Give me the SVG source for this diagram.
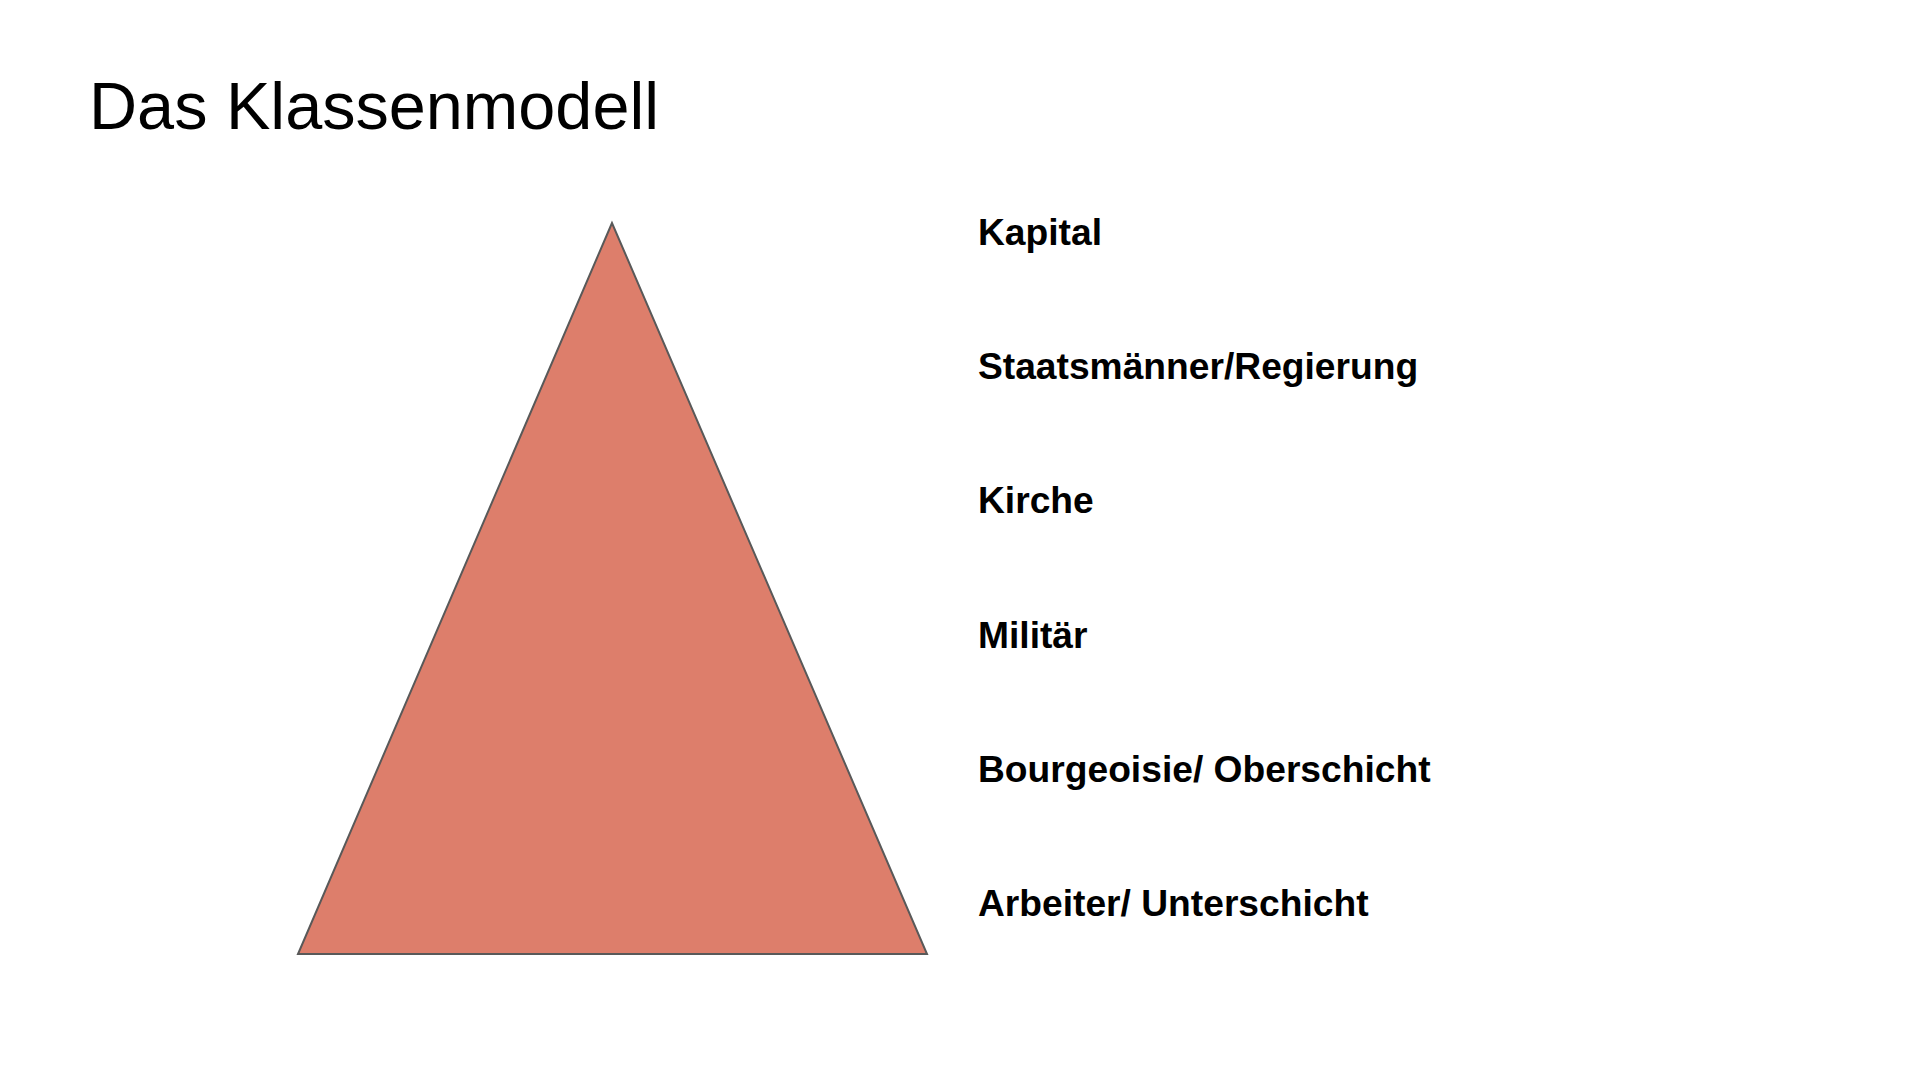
<svg xmlns="http://www.w3.org/2000/svg" width="1920" height="1080" viewBox="0 0 1920 1080">
  <style>
    .title { font-family: "Liberation Sans", Arial, sans-serif; font-size: 66.6px; fill: #000000; }
    .label { font-family: "Liberation Sans", Arial, sans-serif; font-size: 37.2px; font-weight: bold; fill: #000000; }
    .tri { fill: #DD7E6B; stroke: #595959; stroke-width: 2; stroke-linejoin: miter; }
  </style>
  <rect x="0" y="0" width="1920" height="1080" fill="#ffffff"/>
  <g id="title">
    <text class="title" x="89" y="129">Das Klassenmodell</text>
  </g>
  <g id="pyramid">
    <polygon class="tri" points="612,223 298,954 927,954"/>
  </g>
  <g id="connectors"></g>
  <g id="label-kapital"><text class="label" x="978" y="245">Kapital</text></g>
  <g id="label-staatsmaenner"><text class="label" x="978" y="379">Staatsmänner/Regierung</text></g>
  <g id="label-kirche"><text class="label" x="978" y="513">Kirche</text></g>
  <g id="label-militaer"><text class="label" x="978" y="648">Militär</text></g>
  <g id="label-bourgeoisie"><text class="label" x="978" y="782">Bourgeoisie/ Oberschicht</text></g>
  <g id="label-arbeiter"><text class="label" x="978" y="916">Arbeiter/ Unterschicht</text></g>
</svg>
